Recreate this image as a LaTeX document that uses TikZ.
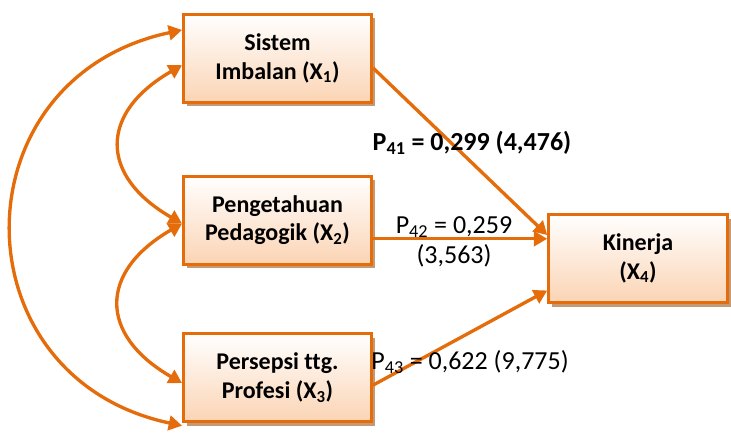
\documentclass[tikz,border=0pt]{standalone}
\usepackage{fontspec}
\setmainfont[Ligatures=NoCommon]{Carlito}
\usetikzlibrary{arrows.meta,positioning,shadows}
\definecolor{orangeline}{HTML}{E46C0A}
\definecolor{peach}{HTML}{FBD4B4}
\definecolor{shadowbrown}{HTML}{C49A76}
\tikzstyle{varbox}=[rectangle,draw=orangeline,line width=2.2pt,top color=white,bottom color=peach,
  minimum width=141pt,minimum height=66pt,align=center,font=\bfseries\fontsize{18}{21.5}\selectfont,
  drop shadow={shadow xshift=2.5pt,shadow yshift=-3pt,fill=shadowbrown,opacity=1}]
\tikzstyle{coef}=[font=\fontsize{19.5}{21}\selectfont,inner sep=0pt,align=center]
\tikzstyle{link}=[draw=orangeline,line width=2.5pt,-{Triangle[length=10pt,width=11pt]}]
\tikzstyle{corr}=[link,{Triangle[length=10pt,width=11pt]}-{Triangle[length=10pt,width=11pt]}]

\begin{document}
\begin{tikzpicture}[x=0.75pt,y=-0.75pt]
  \useasboundingbox (0,0) rectangle (731,442);

  \node[varbox]         (X1) at (277.5,58.5)   {Sistem\\Imbalan (X\textsubscript{1})};
  \node[varbox]         (X2) [below=53pt of X1] {Pengetahuan\\Pedagogik (X\textsubscript{2})};
  \node[varbox]         (X3) [below=50pt of X2] {Persepsi ttg.\\Profesi (X\textsubscript{3})};
  \node[varbox,minimum width=134pt] (X4) at (638,258.5) {Kinerja\\(X\textsubscript{4})};

  \coordinate (X1e) at ([yshift=-7pt]X1.east);
  \coordinate (X2e) at ([yshift=-14pt]X2.east);
  \coordinate (X3e) at ([yshift=-5.6pt]X3.east);

  \path[link] (X1e) -- ([yshift=17.6pt]X4.west);
  \path[link] (X2e) -- (X2e -| X4.west);
  \path[link] (X3e) -- ([yshift=-24pt]X4.west);

  % correlations
  \path[corr] ([yshift=21.4pt]X1.west) to[out=192,in=168,looseness=1.5] ([yshift=-36pt]X3.west);
  \path[corr] ([yshift=-5pt]X1.west) to[out=210,in=150,looseness=1.55] ([yshift=-2.6pt]X2.west);
  \path[corr] ([yshift=-2.6pt]X2.west) to[out=210,in=150,looseness=1.55] ([yshift=-4pt]X3.west);

  \node[coef,font=\bfseries\fontsize{19.5}{21}\selectfont] (P41) at (472,143) {P\textsubscript{41} = 0,299 (4,476)};
  \node[coef] (P42) at (454,242) {P\textsubscript{42} = 0,259\\[2pt](3,563)};
  \node[coef] (P43) at (470,362) {P\textsubscript{43} = 0,622 (9,775)};
\end{tikzpicture}
\end{document}
